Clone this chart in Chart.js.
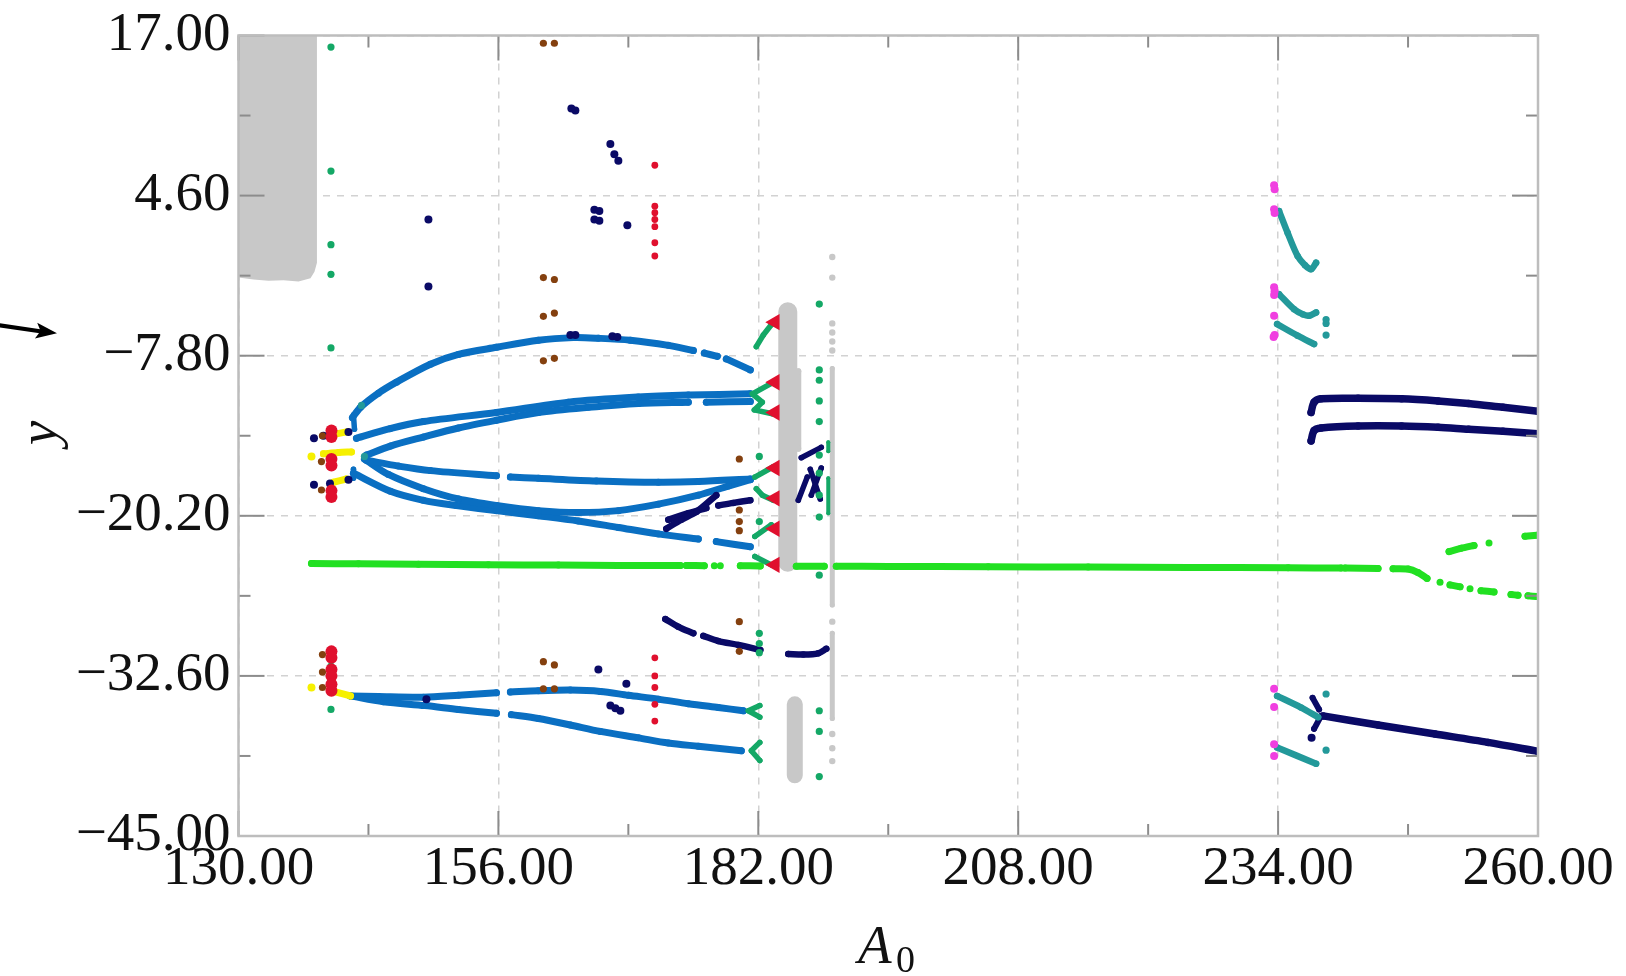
<!DOCTYPE html>
<html>
<head>
<meta charset="utf-8">
<title>Bifurcation diagram</title>
<script src="https://cdn.jsdelivr.net/npm/chart.js@4.4.0/dist/chart.umd.min.js"></script>
<style>
  html, body { margin: 0; padding: 0; background: #ffffff; overflow: hidden; }
  #wrap { width: 1626px; height: 976px; position: relative; }
  #wrap canvas { display: block; }
  #pointer { position: absolute; left: 0; top: 300px; width: 70px; height: 60px; pointer-events: none; }
</style>
</head>
<body>
<div id="wrap">
  <canvas id="c"></canvas>
  <svg id="pointer" viewBox="0 300 70 60" xmlns="http://www.w3.org/2000/svg">
    <path d="M0,323.2 L42,329.4 L41.4,333.4 L0,327.4 Z" fill="#000"/>
    <polygon points="57,333.2 37.2,322.8 40.6,331 34.9,338.6" fill="#000"/>
  </svg>
</div>
<script>
// ---- axes ----
const xTicks = [130, 156, 182, 208, 234, 260];
const xMinorTicks = [143, 169, 195, 221, 247];
const yTicks = [-45, -32.6, -20.2, -7.8, 4.6, 17];
const yMinorTicks = [-38.8, -26.4, -14, -1.6, 10.8];

// ---- chaotic bands (grey) ----
const greyBlockBottom = [[130,-1.75],[131.5,-1.9],[133,-2.0],[134.5,-1.95],[136,-2.05],[137.2,-1.8],[137.6,-1.3],[137.85,-0.6]];
const greyBand = [[184.95,-4.4],[184.95,-23.8]];
const greyBandSide = [[186.0,-9.0],[186.0,-15.0]];
const greyBlockLow = [[185.65,-34.8],[185.65,-40.3]];
const greyColumn = [[189.4,-8.8],[189.4,-27.1],[189.4,null],[189.4,-29.3],[189.4,-35.9]];
const greyColumnDots = [[189.4,-0.15],[189.4,-1.75],[189.4,-5.3],[189.4,-6.0],[189.4,-6.7],[189.4,-7.4],[189.4,-28.4],[189.4,-37.1],[189.4,-38.2],[189.4,-39.2]];

// ---- period-1 branch (bright green) ----
const greenMain = [[137.3,-23.9],[142,-23.92],[148,-23.95],[155,-24.0],[162,-24.02],[168,-24.04],[174.2,-24.05],[174.5,null],
  [174.8,-24.05],[176.6,-24.06],[177.0,null],[177.6,-24.06],[177.9,null],[178.2,-24.06],[178.6,null],
  [180.2,-24.06],[182.2,-24.08],[183,null],[185.8,-24.1],[188.6,-24.1],[189,null],[189.8,-24.1],[195,-24.12],
  [205,-24.15],[215,-24.17],[225,-24.2],[235,-24.22],[240.3,-24.25],[240.5,null],[240.7,-24.25],[244.0,-24.28],[244.7,null],
  [245.5,-24.3],[247.0,-24.32],[248.0,-24.6],[248.9,-25.05],[249.5,null],[250.2,-25.35],[250.7,null],[251.2,-25.55],[252.2,-25.7],
  [252.7,null],[253.2,-25.85],[253.7,null],[254.3,-26.0],[255.6,-26.1],[256.4,null],[257.3,-26.3],[258.0,-26.35],[258.5,null],
  [259.0,-26.4],[259.9,-26.45]];
const greenUpper = [[251.1,-22.97],[252.3,-22.72],[253.6,-22.5],[254.0,null],[255.1,-22.3],[255.5,null],[258.7,-21.78],[259.9,-21.7]];

// ---- blue branches ----
const blueArcTop = [[141.4,-12.6],[142.2,-11.8],[144,-10.7],[145.8,-9.85],[149.2,-8.46],[152,-7.7],[155.8,-7.15],[160,-6.6],
  [163.5,-6.4],[166,-6.45],[169.2,-6.6],[173,-7.0],[175.5,-7.4],[176,null],[176.6,-7.6],[177.9,-7.85],[178.3,null],[178.8,-8.05],[181.2,-8.9]];
const blueUpperA = [[141.8,-14.2],[145.15,-13.45],[148.5,-12.9],[155.8,-12.2],[163,-11.4],[170,-11.0],[175,-10.85],[181.2,-10.75]];
const blueUpperB = [[142.8,-15.5],[145.2,-14.8],[148.5,-14.1],[152,-13.4],[155.8,-12.8],[160,-12.2],[165,-11.8],[170,-11.5],
  [175,-11.4],[176.2,null],[176.8,-11.4],[181.2,-11.35]];
const blueMid = [[142.8,-15.9],[146,-16.35],[149.2,-16.7],[155.8,-17.1],[156.3,null],[157.2,-17.2],[160,-17.3],[165.8,-17.5],
  [172,-17.6],[176,-17.55],[181.2,-17.35]];
const blueLowA = [[142.6,-15.8],[145,-17.0],[148.5,-18.1],[152,-18.9],[155.8,-19.4],[160,-19.8],[164,-19.95],[168,-19.8],
  [172,-19.3],[176,-18.6],[179,-17.9],[181.2,-17.4]];
const blueLowB = [[141.5,-16.9],[145.2,-18.3],[148.5,-19.0],[151.8,-19.4],[155.8,-19.8],[160,-20.2],[164,-20.6],[168,-21.1],
  [172,-21.6],[176,-22.0],[177,null],[177.8,-22.2],[181.2,-22.6]];
const blueStubs = [[141.5,-12.4],[141.6,-13.5],[141.6,null],[141.5,-16.6],[141.5,-17.3]];
const blueBottomA = [[141.2,-34.15],[144,-34.2],[148.5,-34.25],[152,-34.1],[155.8,-33.9],[156.5,null],[157.2,-33.85],[160,-33.75],
  [163.2,-33.7],[166.2,-33.8],[169,-34.1],[172,-34.4],[175,-34.75],[178,-35.05],[180.5,-35.3]];
const blueBottomB = [[141.2,-34.15],[144.5,-34.6],[148.65,-34.9],[152,-35.2],[155.8,-35.5],[156.5,null],[157.3,-35.6],[160,-35.9],
  [163.2,-36.4],[166.2,-36.9],[170,-37.4],[173,-37.8],[176,-38.05],[180.3,-38.4]];

// ---- navy branches ----
const navyMidA = [[172.8,-21.2],[174.3,-20.5],[175.8,-19.9],[177.8,-18.6]];
const navyMidB = [[173,-20.5],[175,-20.0],[176.8,-19.6],[177.4,null],[178,-19.4],[179.5,-19.2],[181.2,-19.0]];
const navyLowA = [[172.7,-28.2],[174,-28.8],[175.5,-29.3],[176,null],[176.5,-29.5],[178,-29.9],[180,-30.2],[182.2,-30.6]];
const navyLowB = [[185.0,-30.9],[186.5,-30.95],[188.0,-30.85],[188.8,-30.5]];
const navyCrossA = [[186.3,-15.7],[188.3,-14.9]];
const navyCrossB = [[186.0,-19.0],[186.9,-17.2]];
const navyCrossC = [[187.2,-16.6],[188.2,-18.9]];
const navyCrossD = [[188.3,-16.5],[187.3,-18.6]];
const navyRightA = [[237.3,-12.2],[237.6,-11.4],[238.3,-11.14],[242,-11.1],[246.35,-11.14],[250,-11.3],[253.05,-11.5],[256.5,-11.8],[260,-12.1]];
const navyRightB = [[237.3,-14.4],[237.6,-13.6],[238.3,-13.4],[242,-13.25],[246.35,-13.25],[250,-13.35],[253.05,-13.5],[256.5,-13.65],[260,-13.85]];
const navyRightLow = [[238.5,-35.7],[244,-36.4],[249.7,-37.1],[255,-37.75],[260,-38.45]];
const navyRightHookA = [[237.45,-34.3],[238.1,-35.2]];
const navyRightHookB = [[237.6,-36.7],[238.3,-35.7]];
const navyDots = [[149.0,2.75],[149.0,-2.45],[163.3,11.35],[163.7,11.2],[167.2,8.6],[167.6,7.8],[168.0,7.3],[165.6,3.5],[166.1,3.4],
  [165.6,2.75],[166.1,2.65],[168.9,2.3],[163.2,-6.2],[163.7,-6.2],[167.4,-6.3],[167.9,-6.35],[148.8,-34.4],[166.0,-32.1],
  [168.8,-33.2],[167.2,-34.9],[167.7,-35.1],[168.2,-35.3],[137.55,-14.2],[138.5,-14.0],[141,-13.7],[137.55,-17.8],
  [139.15,-17.7],[141,-17.4],[237.35,-37.4]];

// ---- teal / sea-green branches ----
const tealA = [[234.1,3.4],[234.95,1.72],[235.95,-0.08],[236.7,-0.8],[237.3,-1.1],[237.8,-0.6]];
const tealB = [[234.1,-3.04],[235.6,-4.2],[236.5,-4.6],[237.1,-4.7],[237.8,-4.45]];
const tealC = [[233.9,-5.35],[235.95,-6.25],[237.6,-6.9]];
const tealD = [[233.9,-34.15],[236.3,-35.05],[238.0,-35.8]];
const tealE = [[233.9,-38.15],[237.8,-39.4]];
const tealDots = [[238.8,-5.0],[238.8,-5.3],[238.8,-6.2],[238.8,-34.0],[238.8,-38.35],[142.3,-11.65],[142.6,-15.6]];
const forkA = [[181.8,-7.1],[182.5,-6.2],[183.3,-5.4]];
const forkB = [[183.4,-9.9],[181.4,-10.75],[182.4,-11.4],[181.6,-12.0],[183.4,-12.3]];
const forkC = [[181.65,-17.2],[183.5,-16.4]];
const forkD = [[181.8,-18.1],[182.4,-18.6],[183.5,-19.0]];
const forkE = [[181.65,-21.8],[183.3,-20.9]];
const forkF = [[181.65,-23.35],[183.3,-24.0]];
const forkG = [[182.15,-34.9],[181.0,-35.3],[182.15,-35.8]];
const forkH = [[182.15,-37.75],[181.3,-38.4],[182.15,-39.15]];
const seaDots = [[139.25,16.1],[139.25,6.5],[139.25,0.8],[139.25,-1.5],[139.25,-7.2],[139.25,-31.85],[139.25,-35.2],
  [188.1,-3.8],[188.1,-8.9],[188.1,-9.7],[188.1,-11.3],[188.1,-12.9],[188.1,-15.5],[188.1,-16.9],[188.1,-18.6],
  [188.1,-20.3],[188.1,-24.8],[188.1,-35.3],[188.1,-36.9],[188.1,-40.4],
  [182.1,-15.6],[182.1,-20.65],[182.1,-29.3],[182.1,-30.1],[182.1,-30.8]];
const seaSide = [[189.0,-14.5],[189.0,-15.2],[189.0,null],[189.0,-17.3],[189.0,-20.0]];

// ---- magenta, red, brown, yellow points ----
const magentaDots = [[233.6,5.4],[233.65,5.1],[233.6,3.55],[233.65,3.25],[233.6,-2.5],[233.65,-2.8],[233.6,-3.1],
  [233.6,-4.7],[233.65,-6.2],[233.55,-6.35],[233.6,-33.6],[233.6,-35.0],[233.6,-37.9],[233.6,-38.8]];
const redWedges = [[183.65,-5.2],[183.65,-9.85],[183.65,-12.2],[183.65,-16.5],[183.65,-18.85],[183.65,-21.2],[183.65,-24.0]];
const redBig = [[139.3,-13.6],[139.3,-14.1],[139.3,-15.8],[139.3,-16.3],[139.3,-18.25],[139.3,-18.75],
  [139.3,-30.7],[139.3,-31.2],[139.3,-32.1],[139.3,-32.6],[139.3,-33.25],[139.3,-33.75]];
const redDots = [[171.65,6.95],[171.65,3.78],[171.65,3.27],[171.65,2.75],[171.65,2.19],[171.65,0.95],[171.65,-0.08],
  [171.65,-31.2],[171.65,-32.6],[171.65,-33.5],[171.65,-34.8],[171.65,-36.1]];
const brownDots = [[160.5,16.4],[161.6,16.4],[160.5,-1.75],[161.6,-1.9],[160.5,-4.75],[161.6,-4.5],[160.5,-8.2],[161.6,-8.0],
  [160.5,-31.5],[161.6,-31.75],[160.5,-33.6],[161.6,-33.6],[180.1,-15.8],[180.1,-19.75],[180.1,-20.65],[180.1,-21.35],
  [180.1,-28.4],[180.1,-30.7],[138.4,-14.0],[138.3,-16.0],[138.3,-18.2],[138.4,-30.95],[138.4,-32.3],[138.4,-33.5]];
const yellowA = [[139.8,-13.85],[140.8,-13.7]];
const yellowB = [[138.5,-15.4],[140,-15.3],[141.3,-15.25]];
const yellowC = [[139.5,-17.6],[140.8,-17.35]];
const yellowD = [[139.5,-33.8],[141.2,-34.15]];
const yellowDots = [[137.3,-15.6],[137.3,-33.5]];

// ---- colours ----
const C = {
  blue: '#0a6fc2', navy: '#0a0a66', green: '#22e022', grey: '#c8c8c8', teal: '#23999a',
  sea: '#14a866', red: '#e0102e', brown: '#84400f', magenta: '#f03fe0', yellow: '#f6f000'
};

const toXY = arr => arr.map(p => ({ x: p[0], y: p[1] }));

function curve(arr, color, width, extra) {
  return Object.assign({
    data: toXY(arr), showLine: true, borderColor: color, borderWidth: width,
    pointRadius: width / 2, pointBackgroundColor: color, pointBorderWidth: 0, pointHoverRadius: 0,
    borderCapStyle: 'round', borderJoinStyle: 'round', spanGaps: false, fill: false, tension: 0.3, order: 1
  }, extra || {});
}
function dots(arr, color, r, extra) {
  return Object.assign({
    data: toXY(arr), showLine: false, pointRadius: r, pointBackgroundColor: color,
    pointBorderWidth: 0, pointHoverRadius: 0, order: 0
  }, extra || {});
}

const datasets = [
  // point markers on top
  dots(redWedges, C.red, 9.5, { pointStyle: 'triangle', rotation: -90 }),
  dots(redBig, C.red, 6),
  dots(brownDots, C.brown, 3.6),
  dots(redDots, C.red, 3.4),
  dots(magentaDots, C.magenta, 4),
  dots(seaDots, C.sea, 3.6),
  dots(tealDots, C.teal, 3.6),
  dots(navyDots, C.navy, 4),
  dots(yellowDots, C.yellow, 4),
  curve(yellowA, C.yellow, 7), curve(yellowB, C.yellow, 7), curve(yellowC, C.yellow, 7), curve(yellowD, C.yellow, 7),
  curve(forkA, C.sea, 5.5, { tension: 0 }), curve(forkB, C.sea, 5.5, { tension: 0 }), curve(forkC, C.sea, 5.5, { tension: 0 }),
  curve(forkD, C.sea, 5.5, { tension: 0 }), curve(forkE, C.sea, 5.5, { tension: 0 }), curve(forkF, C.sea, 5.5, { tension: 0 }),
  curve(forkG, C.sea, 5.5, { tension: 0 }), curve(forkH, C.sea, 5.5, { tension: 0 }), curve(seaSide, C.sea, 4, { tension: 0 }),
  curve(tealA, C.teal, 6.5), curve(tealB, C.teal, 6.5), curve(tealC, C.teal, 6.5), curve(tealD, C.teal, 6.5), curve(tealE, C.teal, 6.5),
  curve(navyMidA, C.navy, 6.5), curve(navyMidB, C.navy, 6.5), curve(navyLowA, C.navy, 6.5), curve(navyLowB, C.navy, 6.5),
  curve(navyCrossA, C.navy, 5.5, { tension: 0 }), curve(navyCrossB, C.navy, 5.5, { tension: 0 }),
  curve(navyCrossC, C.navy, 5.5, { tension: 0 }), curve(navyCrossD, C.navy, 5.5, { tension: 0 }),
  curve(navyRightA, C.navy, 7.5), curve(navyRightB, C.navy, 7.5), curve(navyRightLow, C.navy, 7.5),
  curve(navyRightHookA, C.navy, 6, { tension: 0 }), curve(navyRightHookB, C.navy, 6, { tension: 0 }),
  curve(blueArcTop, C.blue, 7), curve(blueUpperA, C.blue, 7), curve(blueUpperB, C.blue, 7), curve(blueMid, C.blue, 7),
  curve(blueLowA, C.blue, 7), curve(blueLowB, C.blue, 7), curve(blueStubs, C.blue, 5.5, { tension: 0 }),
  curve(blueBottomA, C.blue, 7), curve(blueBottomB, C.blue, 7),
  curve(greenMain, C.green, 7, { tension: 0.2 }), curve(greenUpper, C.green, 7, { tension: 0.2 }),
  // grey chaotic regions underneath
  curve(greyColumn, C.grey, 5, { tension: 0, order: 5 }),
  dots(greyColumnDots, C.grey, 3.2, { order: 5 }),
  curve(greyBand, C.grey, 19, { tension: 0, pointRadius: 0, order: 5 }),
  curve(greyBandSide, C.grey, 6, { tension: 0, order: 5 }),
  curve(greyBlockLow, C.grey, 16, { tension: 0, pointRadius: 0, borderCapStyle: 'butt', order: 5 }),
  { data: toXY(greyBlockBottom), showLine: true, borderWidth: 0, borderColor: C.grey, pointRadius: 0,
    fill: { value: 17 }, backgroundColor: C.grey, order: 6 }
];

const fmt = v => (v < 0 ? '\u2212' : '') + Math.abs(v).toFixed(2);
const tickFont = { family: 'Liberation Serif', size: 55, lineHeight: 1 };

// frame, inner tick marks and axis titles
const decor = {
  id: 'decor',
  afterDatasetsDraw(chart) {
    const { ctx, chartArea: a, scales: { x, y } } = chart;
    const seg = (x1, y1, x2, y2) => { ctx.beginPath(); ctx.moveTo(x1, y1); ctx.lineTo(x2, y2); ctx.stroke(); };
    ctx.save();
    ctx.setLineDash([]);
    ctx.strokeStyle = '#8c8c8c';
    ctx.lineWidth = 2;
    xTicks.forEach(v => { const p = x.getPixelForValue(v); seg(p, a.top, p, a.top + 25); seg(p, a.bottom, p, a.bottom - 25); });
    xMinorTicks.forEach(v => { const p = x.getPixelForValue(v); seg(p, a.top, p, a.top + 12); seg(p, a.bottom, p, a.bottom - 12); });
    yTicks.forEach(v => { const p = y.getPixelForValue(v); seg(a.left, p, a.left + 26, p); seg(a.right, p, a.right - 26, p); });
    yMinorTicks.forEach(v => { const p = y.getPixelForValue(v); seg(a.left, p, a.left + 12, p); seg(a.right, p, a.right - 12, p); });
    ctx.strokeStyle = '#bdbdbd';
    ctx.lineWidth = 2.5;
    ctx.strokeRect(a.left, a.top, a.right - a.left, a.bottom - a.top);
    ctx.restore();
  },
  afterDraw(chart) {
    const { ctx } = chart;
    ctx.save();
    ctx.fillStyle = '#111';
    ctx.save();
    ctx.translate(42, 433);
    ctx.rotate(-Math.PI / 2);
    ctx.font = 'italic 55px "Liberation Serif"';
    ctx.textAlign = 'center';
    ctx.textBaseline = 'middle';
    ctx.fillText('y', 0, 0);
    ctx.restore();
    ctx.font = 'italic 55px "Liberation Serif"';
    ctx.textAlign = 'left';
    ctx.textBaseline = 'alphabetic';
    ctx.fillText('A', 858, 963);
    ctx.font = '38px "Liberation Serif"';
    ctx.fillText('0', 896, 972);
    ctx.restore();
  }
};

new Chart(document.getElementById('c'), {
  type: 'scatter',
  data: { datasets },
  options: {
    responsive: true,
    maintainAspectRatio: false,
    animation: false,
    events: [],
    layout: { padding: { left: 0, top: 32, right: 88, bottom: 0 } },
    plugins: { legend: { display: false }, tooltip: { enabled: false } },
    scales: {
      x: {
        type: 'linear', min: 130, max: 260,
        afterBuildTicks: s => { s.ticks = xTicks.map(v => ({ value: v })); },
        afterFit: s => { s.height = 140; },
        ticks: { callback: v => fmt(v), font: tickFont, color: '#111', padding: 6, maxRotation: 0, autoSkip: false },
        grid: { color: '#d2d2d2', lineWidth: 1.5, drawTicks: false },
        border: { display: false, dash: [7, 7] }
      },
      y: {
        type: 'linear', min: -45, max: 17,
        afterBuildTicks: s => { s.ticks = yTicks.map(v => ({ value: v })); },
        afterFit: s => { s.width = 238.5; },
        ticks: { callback: v => fmt(v), font: tickFont, color: '#111', padding: 8, autoSkip: false },
        grid: { color: '#d2d2d2', lineWidth: 1.5, drawTicks: false },
        border: { display: false, dash: [7, 7] }
      }
    }
  },
  plugins: [decor]
});
</script>
</body>
</html>
